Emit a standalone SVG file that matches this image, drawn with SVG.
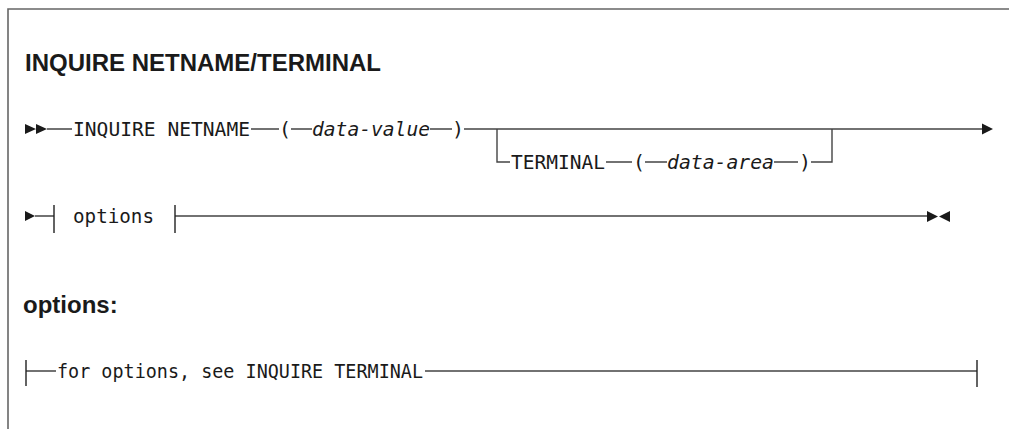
<svg xmlns="http://www.w3.org/2000/svg" width="1009" height="429" viewBox="0 0 1009 429">
<style>
.frame{stroke:#666;stroke-width:1.6;fill:none}
.ln{stroke:#444;stroke-width:1.4;fill:none}
.tk{stroke:#222;stroke-width:1.4;fill:none}
.ah{fill:#1a1a1a}
.h{font-family:"Liberation Sans",Arial,sans-serif;font-weight:bold;font-size:24px;fill:#1a1a1a}
.m{font-family:"DejaVu Sans Mono","Liberation Mono",monospace;font-size:20px;fill:#1a1a1a}
.v{font-style:italic}
</style>
<g id="frame">
<path class="frame" d="M8,429 V9 H1009"/>
</g>
<g id="title"><text class="h" x="25" y="71">INQUIRE NETNAME/TERMINAL</text></g>
<g id="options-heading"><text class="h" x="23" y="313">options:</text></g>
<g id="connectors">
<path class="ah" d="M25,124 L36,129 L25,134 Z M36,124 L47,129 L36,134 Z"/>
<path class="ln" d="M47,129 H72 M251,129 H279 M291,129 H312 M430,129 H452 M464,129 H982"/>
<path class="ah" d="M982,123.5 L993,129 L982,134.5 Z"/>
<path class="ln" d="M497,129 V162 H510 M606,162 H632 M645,162 H667 M774,162 H798 M811,162 H832 V129"/>
<path class="ah" d="M25,211 L35,216 L25,221 Z"/>
<path class="ln" d="M35,216 H54 M175,216 H927"/>
<path class="tk" d="M54,205 V233 M175,205 V233"/>
<path class="ah" d="M927,211 L938,216.5 L927,222 Z M950,211 L939,216.5 L950,222 Z"/>
<path class="ln" d="M26,371 H56 M425,371 H977"/>
<path class="tk" d="M26,360 V386 M977,360 V387"/>
</g>
<g id="n-inquire"><text class="m" x="73" y="136" textLength="177" lengthAdjust="spacingAndGlyphs">INQUIRE NETNAME</text></g>
<g id="n-paren1"><text class="m" x="279" y="136">(</text></g>
<g id="n-datavalue"><text class="m v" x="312" y="136" textLength="118" lengthAdjust="spacingAndGlyphs">data-value</text></g>
<g id="n-paren2"><text class="m" x="452" y="136">)</text></g>
<g id="n-terminal"><text class="m" x="511" y="169" textLength="94" lengthAdjust="spacingAndGlyphs">TERMINAL</text></g>
<g id="n-paren3"><text class="m" x="633" y="169">(</text></g>
<g id="n-dataarea"><text class="m v" x="667" y="169" textLength="107" lengthAdjust="spacingAndGlyphs">data-area</text></g>
<g id="n-paren4"><text class="m" x="799" y="169">)</text></g>
<g id="n-options"><text class="m" x="73" y="223" textLength="81" lengthAdjust="spacingAndGlyphs">options</text></g>
<g id="n-see"><text class="m" x="57" y="378" textLength="366" lengthAdjust="spacingAndGlyphs">for options, see INQUIRE TERMINAL</text></g>
</svg>
